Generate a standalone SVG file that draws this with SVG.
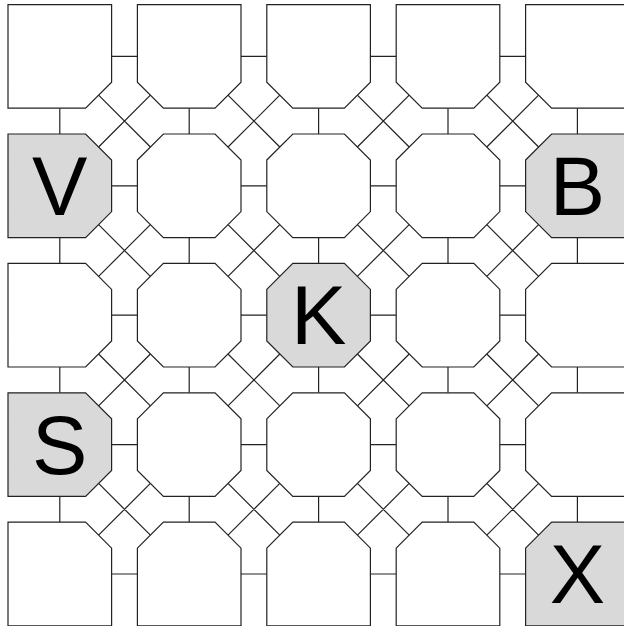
<svg xmlns="http://www.w3.org/2000/svg" width="624" height="626" viewBox="0 0 624 626">
<style>
.n{fill:#fff;stroke:#222;stroke-width:1.2}
.h{fill:#d9d9d9}
.c{fill:none;stroke:#222;stroke-width:1.2}
.t{font-family:"Liberation Sans",Arial,sans-serif;font-size:83px;text-anchor:middle;fill:#000}
</style>
<defs>
<polygon id="oct" points="0,26 26,0 77.6,0 103.6,26 103.6,77.6 77.6,103.6 26,103.6 0,77.6"/>
<polygon id="top" points="0,0 103.6,0 103.6,77.6 77.6,103.6 26,103.6 0,77.6"/>
<polygon id="tl" points="0,0 103.6,0 103.6,77.6 77.6,103.6 0,103.6"/>
<polygon id="tr" points="0,0 103.6,0 103.6,103.6 26,103.6 0,77.6"/>
<polygon id="left" points="0,0 77.6,0 103.6,26 103.6,77.6 77.6,103.6 0,103.6"/>
<polygon id="right" points="0,26 26,0 103.6,0 103.6,103.6 26,103.6 0,77.6"/>
<polygon id="bl" points="0,0 77.6,0 103.6,26 103.6,103.6 0,103.6"/>
<polygon id="bot" points="0,26 26,0 77.6,0 103.6,26 103.6,103.6 0,103.6"/>
<polygon id="br" points="0,26 26,0 103.6,0 103.6,103.6 0,103.6"/>
</defs>
<g id="connectors" class="c">
<path d="M111.6 56.4H137.4M241 56.4H266.8M370.4 56.4H396.2M499.8 56.4H525.6
M111.6 185.8H137.4M241 185.8H266.8M370.4 185.8H396.2M499.8 185.8H525.6
M111.6 315.2H137.4M241 315.2H266.8M370.4 315.2H396.2M499.8 315.2H525.6
M111.6 444.6H137.4M241 444.6H266.8M370.4 444.6H396.2M499.8 444.6H525.6
M111.6 574H137.4M241 574H266.8M370.4 574H396.2M499.8 574H525.6"/>
<path d="M59.8 108.2V134M59.8 237.6V263.4M59.8 367V392.8M59.8 496.4V522.2
M189.2 108.2V134M189.2 237.6V263.4M189.2 367V392.8M189.2 496.4V522.2
M318.6 108.2V134M318.6 237.6V263.4M318.6 367V392.8M318.6 496.4V522.2
M448 108.2V134M448 237.6V263.4M448 367V392.8M448 496.4V522.2
M577.4 108.2V134M577.4 237.6V263.4M577.4 367V392.8M577.4 496.4V522.2"/>
<path d="M98.6 95.2L150.4 147M150.4 95.2L98.6 147M228 95.2L279.8 147M279.8 95.2L228 147M357.4 95.2L409.2 147M409.2 95.2L357.4 147M486.8 95.2L538.6 147M538.6 95.2L486.8 147
M98.6 224.6L150.4 276.4M150.4 224.6L98.6 276.4M228 224.6L279.8 276.4M279.8 224.6L228 276.4M357.4 224.6L409.2 276.4M409.2 224.6L357.4 276.4M486.8 224.6L538.6 276.4M538.6 224.6L486.8 276.4
M98.6 354L150.4 405.8M150.4 354L98.6 405.8M228 354L279.8 405.8M279.8 354L228 405.8M357.4 354L409.2 405.8M409.2 354L357.4 405.8M486.8 354L538.6 405.8M538.6 354L486.8 405.8
M98.6 483.4L150.4 535.2M150.4 483.4L98.6 535.2M228 483.4L279.8 535.2M279.8 483.4L228 535.2M357.4 483.4L409.2 535.2M409.2 483.4L357.4 535.2M486.8 483.4L538.6 535.2M538.6 483.4L486.8 535.2"/>
</g>
<g id="n00" transform="translate(8,4.6)"><use href="#tl" class="n"/></g>
<g id="n01" transform="translate(137.4,4.6)"><use href="#top" class="n"/></g>
<g id="n02" transform="translate(266.8,4.6)"><use href="#top" class="n"/></g>
<g id="n03" transform="translate(396.2,4.6)"><use href="#top" class="n"/></g>
<g id="n04" transform="translate(525.6,4.6)"><use href="#tr" class="n"/></g>
<g id="V" transform="translate(8,134)"><use href="#left" class="n h"/><text class="t" x="51.8" y="80.8">V</text></g>
<g id="n11" transform="translate(137.4,134)"><use href="#oct" class="n"/></g>
<g id="n12" transform="translate(266.8,134)"><use href="#oct" class="n"/></g>
<g id="n13" transform="translate(396.2,134)"><use href="#oct" class="n"/></g>
<g id="B" transform="translate(525.6,134)"><use href="#right" class="n h"/><text class="t" x="51.8" y="80.8">B</text></g>
<g id="n20" transform="translate(8,263.4)"><use href="#left" class="n"/></g>
<g id="n21" transform="translate(137.4,263.4)"><use href="#oct" class="n"/></g>
<g id="K" transform="translate(266.8,263.4)"><use href="#oct" class="n h"/><text class="t" x="51.8" y="80.8">K</text></g>
<g id="n23" transform="translate(396.2,263.4)"><use href="#oct" class="n"/></g>
<g id="n24" transform="translate(525.6,263.4)"><use href="#right" class="n"/></g>
<g id="S" transform="translate(8,392.8)"><use href="#left" class="n h"/><text class="t" x="51.8" y="80.8">S</text></g>
<g id="n31" transform="translate(137.4,392.8)"><use href="#oct" class="n"/></g>
<g id="n32" transform="translate(266.8,392.8)"><use href="#oct" class="n"/></g>
<g id="n33" transform="translate(396.2,392.8)"><use href="#oct" class="n"/></g>
<g id="n34" transform="translate(525.6,392.8)"><use href="#right" class="n"/></g>
<g id="n40" transform="translate(8,522.2)"><use href="#bl" class="n"/></g>
<g id="n41" transform="translate(137.4,522.2)"><use href="#bot" class="n"/></g>
<g id="n42" transform="translate(266.8,522.2)"><use href="#bot" class="n"/></g>
<g id="n43" transform="translate(396.2,522.2)"><use href="#bot" class="n"/></g>
<g id="X" transform="translate(525.6,522.2)"><use href="#br" class="n h"/><text class="t" x="51.8" y="80.8">X</text></g>
</svg>
